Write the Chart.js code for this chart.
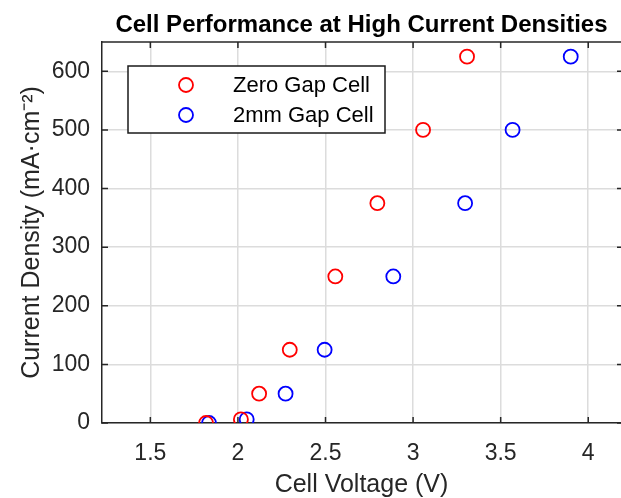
<!DOCTYPE html>
<html>
<head>
<meta charset="utf-8">
<script src="https://cdn.jsdelivr.net/npm/chart.js@4/dist/chart.umd.min.js"></script>
<style>
  body { margin: 0; background: #fff; }
  #cell-chart { display: block; }
</style>
</head>
<body>
<canvas id="cell-chart" width="621" height="498"></canvas>
<script>
// 読み取った値 (電流密度は共通)
const currentDensity = [0, 6.25, 50, 125, 250, 375, 500, 625];
const zeroGapVoltage = [1.818, 2.017, 2.121, 2.296, 2.556, 2.796, 3.057, 3.308];
const gap2mmVoltage = [1.835, 2.050, 2.272, 2.495, 2.887, 3.297, 3.568, 3.900];
const seriesLabels = ['Zero Gap Cell', '2mm Gap Cell'];
const seriesColors = ['#ff0000', '#0000ff'];
const voltageTicks = [1.5, 2, 2.5, 3, 3.5, 4];
const densityTicks = [0, 100, 200, 300, 400, 500, 600];

const FONT = '"Liberation Sans", Arial, Helvetica, sans-serif';
const AXIS_COLOR = '#262626';

function toPoints(xs, ys) {
    return xs.map((x, i) => ({ x: x, y: ys[i] }));
}

// タイトル・枠線・内向き目盛り・凡例を描くプラグイン
const matlabStyle = {
    id: 'matlabStyle',
    afterDatasetsDraw(chart) {
        const ctx = chart.ctx;
        const area = chart.chartArea;
        const xs = chart.scales.x;
        const ys = chart.scales.y;
        ctx.save();

        // 上側の枠線
        ctx.strokeStyle = AXIS_COLOR;
        ctx.lineWidth = 1.5;
        ctx.beginPath();
        ctx.moveTo(area.left, area.top);
        ctx.lineTo(area.right, area.top);
        ctx.stroke();

        // 内向きの目盛り
        const tl = 6;
        ctx.beginPath();
        xs.ticks.forEach(t => {
            const px = xs.getPixelForValue(t.value);
            ctx.moveTo(px, area.bottom);
            ctx.lineTo(px, area.bottom - tl);
            ctx.moveTo(px, area.top);
            ctx.lineTo(px, area.top + tl);
        });
        ys.ticks.forEach(t => {
            const py = ys.getPixelForValue(t.value);
            ctx.moveTo(area.left, py);
            ctx.lineTo(area.left + tl, py);
            ctx.moveTo(area.right + 2, py);
            ctx.lineTo(area.right + 2 - tl, py);
        });
        ctx.stroke();

        // タイトル
        ctx.fillStyle = '#000';
        ctx.font = 'bold 24px ' + FONT;
        ctx.textAlign = 'center';
        ctx.textBaseline = 'alphabetic';
        ctx.fillText('Cell Performance at High Current Densities', (area.left + area.right) / 2, 32);

        // 凡例
        const box = { x: 128, y: 66, w: 257, h: 67 };
        ctx.fillStyle = '#fff';
        ctx.fillRect(box.x, box.y, box.w, box.h);
        ctx.strokeStyle = '#1a1a1a';
        ctx.lineWidth = 1.5;
        ctx.strokeRect(box.x, box.y, box.w, box.h);
        ctx.font = '22px ' + FONT;
        ctx.textAlign = 'left';
        ctx.textBaseline = 'middle';
        chart.data.datasets.forEach((ds, i) => {
            const cy = box.y + 19 + i * 30;
            ctx.strokeStyle = ds.borderColor;
            ctx.lineWidth = 1.8;
            ctx.beginPath();
            ctx.arc(186, cy, 7, 0, Math.PI * 2);
            ctx.stroke();
            ctx.fillStyle = '#000';
            ctx.fillText(ds.label, 233, cy + 1);
        });
        ctx.restore();
    }
};

const ctx = document.getElementById('cell-chart').getContext('2d');
const chart = new Chart(ctx, {
    type: 'scatter',
    data: {
        datasets: [
            {
                label: seriesLabels[0],
                data: toPoints(zeroGapVoltage, currentDensity),
                borderColor: seriesColors[0],
                backgroundColor: 'rgba(0,0,0,0)',
                pointRadius: 7,
                pointBorderWidth: 1.8,
                showLine: false
            },
            {
                label: seriesLabels[1],
                data: toPoints(gap2mmVoltage, currentDensity),
                borderColor: seriesColors[1],
                backgroundColor: 'rgba(0,0,0,0)',
                pointRadius: 7,
                pointBorderWidth: 1.8,
                showLine: false
            }
        ]
    },
    options: {
        responsive: false,
        animation: false,
        layout: { autoPadding: false, padding: { top: 42, right: 0, left: 0, bottom: 0 } },
        plugins: {
            legend: { display: false },
            tooltip: { enabled: false },
            title: { display: false }
        },
        scales: {
            x: {
                type: 'linear',
                min: 1.224,
                max: 4.187,
                bounds: 'data',
                afterBuildTicks: s => { s.ticks = voltageTicks.map(v => ({ value: v })); },
                afterFit: s => { s.height = 75; s.paddingLeft = 0; s.paddingRight = 0; },
                grid: { color: '#dcdcdc', lineWidth: 1.5, drawTicks: false },
                border: { color: AXIS_COLOR, width: 1.5 },
                ticks: {
                    padding: 17,
                    color: AXIS_COLOR,
                    font: { family: FONT, size: 23 },
                    callback: v => String(v)
                },
                title: {
                    display: true,
                    text: 'Cell Voltage (V)',
                    color: AXIS_COLOR,
                    font: { family: FONT, size: 25, lineHeight: 1 },
                    padding: { top: 0, bottom: 0 }
                }
            },
            y: {
                type: 'linear',
                min: 0,
                max: 650,
                bounds: 'data',
                afterBuildTicks: s => { s.ticks = densityTicks.map(v => ({ value: v })); },
                afterFit: s => { s.width = 102; s.paddingTop = 0; s.paddingBottom = 0; },
                grid: { color: '#dcdcdc', lineWidth: 1.5, drawTicks: false },
                border: { color: AXIS_COLOR, width: 1.5 },
                ticks: {
                    padding: 12,
                    color: AXIS_COLOR,
                    font: { family: FONT, size: 23 },
                    callback: v => String(v)
                },
                title: {
                    display: true,
                    text: 'Current Density (mA·cm⁻²)',
                    color: AXIS_COLOR,
                    font: { family: FONT, size: 25 },
                    padding: { top: 17, bottom: 0 }
                }
            }
        }
    },
    plugins: [matlabStyle]
});
</script>
</body>
</html>
